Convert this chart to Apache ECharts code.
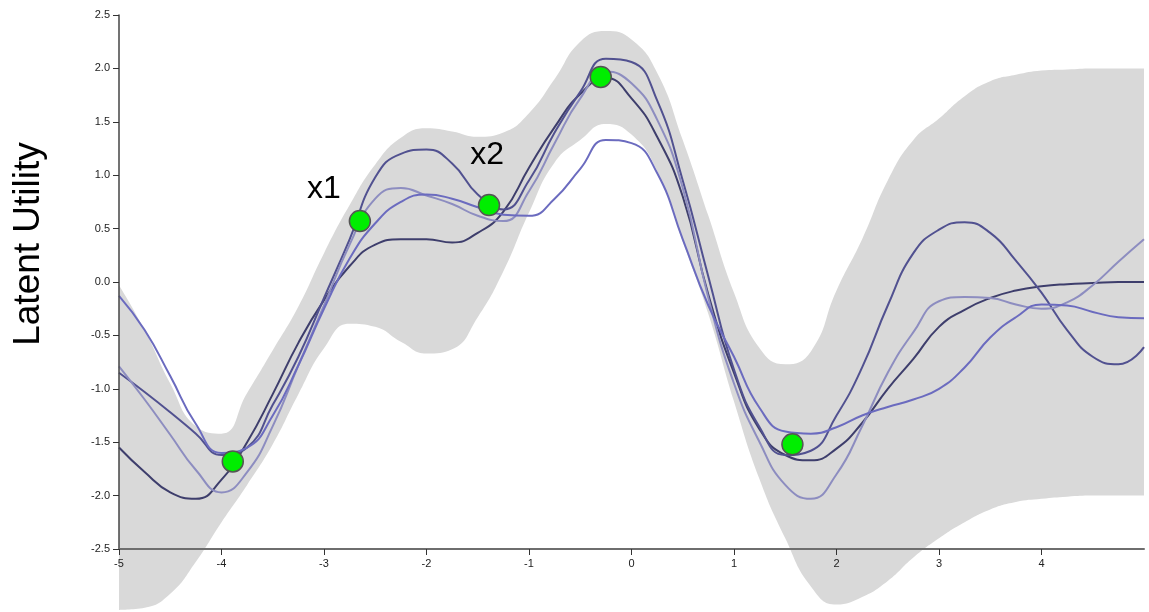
<!DOCTYPE html>
<html>
<head>
<meta charset="utf-8">
<script src="https://cdn.jsdelivr.net/npm/echarts@6/dist/echarts.min.js"></script>
<style>
  html, body { margin: 0; padding: 0; background: #fff; }
  #chart { width: 1149px; height: 612px; }
</style>
</head>
<body>
<div id="chart"></div>
<script>
const xs = [-5, -4.75, -4.5, -4.25, -4, -3.75, -3.5, -3.25, -3, -2.75, -2.5, -2.25, -2, -1.75, -1.5, -1.25,
  -1, -0.75, -0.5, -0.25, 0, 0.25, 0.5, 0.75, 1, 1.25, 1.5, 1.75, 2, 2.25, 2.5, 2.75, 3, 3.25, 3.5, 3.75,
  4, 4.25, 4.5, 4.75, 5];

// confidence band
const bandUpper = [-0.03, -0.45, -0.95, -1.35, -1.42, -1.04, -0.64, -0.23, 0.27, 0.72, 1.10, 1.35, 1.44, 1.41, 1.36, 1.40,
  1.58, 1.90, 2.25, 2.35, 2.27, 1.96, 1.33, 0.62, -0.10, -0.62, -0.77, -0.65, -0.08, 0.40, 0.95, 1.33, 1.53, 1.74, 1.88, 1.94,
  1.98, 1.99, 2.0, 2.0, 2.0];
const bandLower = [-3.07, -3.05, -2.92, -2.62, -2.25, -1.90, -1.52, -1.05, -0.62, -0.39, -0.42, -0.56, -0.67, -0.63, -0.33, 0.10,
  0.65, 1.12, 1.33, 1.48, 1.38, 1.04, 0.38, -0.30, -1.12, -1.85, -2.40, -2.85, -3.02, -2.95, -2.80, -2.58, -2.40, -2.25, -2.13, -2.06,
  -2.03, -2.01, -2.0, -2.0, -2.0];

// sampled functions
const sampleA = [-1.55, -1.78, -1.97, -2.03, -1.85, -1.50, -1.05, -0.57, -0.17, 0.15, 0.35, 0.40, 0.40, 0.37, 0.46, 0.66,
  1.07, 1.45, 1.76, 1.91, 1.72, 1.36, 0.80, -0.12, -0.85, -1.38, -1.62, -1.67, -1.56, -1.32, -1.00, -0.72, -0.42, -0.26, -0.15, -0.08,
  -0.04, -0.02, -0.01, 0, 0];
const sampleB = [-0.85, -1.03, -1.22, -1.42, -1.62, -1.55, -1.15, -0.70, -0.15, 0.40, 0.98, 1.20, 1.24, 1.11, 0.82, 0.68,
  0.95, 1.40, 1.78, 2.09, 2.06, 1.70, 0.95, 0.05, -0.82, -1.36, -1.62, -1.58, -1.25, -0.80, -0.22, 0.27, 0.49, 0.56, 0.46, 0.20,
  -0.10, -0.45, -0.70, -0.77, -0.61];
const sampleC = [-0.79, -1.10, -1.43, -1.76, -1.97, -1.78, -1.35, -0.78, -0.22, 0.35, 0.78, 0.88, 0.81, 0.73, 0.62, 0.57,
  0.85, 1.30, 1.72, 1.97, 1.86, 1.52, 0.88, -0.15, -0.95, -1.50, -1.90, -2.03, -1.80, -1.35, -0.85, -0.47, -0.18, -0.14, -0.15, -0.21,
  -0.25, -0.19, -0.03, 0.19, 0.40];
const sampleD = [-0.13, -0.45, -0.88, -1.33, -1.60, -1.55, -1.25, -0.78, -0.25, 0.22, 0.55, 0.75, 0.82, 0.78, 0.70, 0.63,
  0.62, 0.78, 1.06, 1.33, 1.30, 1.02, 0.40, -0.22, -0.70, -1.18, -1.40, -1.42, -1.36, -1.25, -1.17, -1.10, -1.00, -0.80, -0.52, -0.33,
  -0.21, -0.22, -0.28, -0.33, -0.34];

// observed comparisons
const pointsX = [-3.89, -2.65, -1.39, -0.30, 1.57];
const pointsY = [-1.68, 0.57, 0.72, 1.92, -1.52];
const pointNames = ['', 'x1', 'x2', '', ''];

const yTicks = ['-2.5', '-2.0', '-1.5', '-1.0', '-0.5', '0.0', '0.5', '1.0', '1.5', '2.0', '2.5'];

function pairs(ys) {
  return xs.map((x, i) => [x, ys[i]]);
}

const chart = echarts.init(document.getElementById('chart'));

const lineStyleOf = (color) => ({ color: color, width: 2 });

const option = {
  animation: false,
  grid: { left: 119, right: 5, top: 15, bottom: 63 },
  xAxis: [
    {
      type: 'value', min: -5, max: 5, interval: 1, z: 3,
      axisLine: { onZero: false, lineStyle: { color: '#6e6e6e', width: 2 } },
      axisTick: { length: 6, lineStyle: { color: '#333' } },
      axisLabel: { color: '#222', fontSize: 11, fontFamily: 'Liberation Sans', margin: 9, showMaxLabel: false },
      splitLine: { show: false }
    },
    {
      // hidden category axis so the band can be stacked lower -> upper
      type: 'category', data: xs.map(String), boundaryGap: false, show: false
    }
  ],
  yAxis: {
    type: 'value', min: -2.5, max: 2.5, interval: 0.5, z: 3,
    name: 'Latent Utility', nameLocation: 'middle', nameGap: 72, nameRotate: 90,
    nameTextStyle: { fontSize: 37, color: '#000', fontFamily: 'Liberation Sans', padding: [0, 0, 0, 76] },
    axisLine: { show: true, onZero: false, lineStyle: { color: '#444', width: 1.5 } },
    axisTick: { show: true, length: 6, lineStyle: { color: '#333' } },
    axisLabel: {
      color: '#222', fontSize: 11, fontFamily: 'Liberation Sans', margin: 9,
      formatter: (v) => yTicks[Math.round((v + 2.5) / 0.5)]
    },
    splitLine: { show: false }
  },
  series: [
    {
      type: 'line', name: 'lower', xAxisIndex: 1, data: bandLower, stack: 'band', stackStrategy: 'all',
      smooth: true, symbol: 'none', lineStyle: { opacity: 0 }, clip: false, z: 1, silent: true
    },
    {
      type: 'line', name: 'band', xAxisIndex: 1, data: bandUpper.map((u, i) => u - bandLower[i]),
      stack: 'band', stackStrategy: 'all',
      smooth: true, symbol: 'none', lineStyle: { opacity: 0 }, areaStyle: { color: '#d9d9d9', opacity: 1 },
      clip: false, z: 1, silent: true
    },
    { type: 'line', data: pairs(sampleA), smooth: true, symbol: 'none', lineStyle: lineStyleOf('#3e3e6c'), z: 2 },
    { type: 'line', data: pairs(sampleB), smooth: true, symbol: 'none', lineStyle: lineStyleOf('#515190'), z: 2 },
    { type: 'line', data: pairs(sampleC), smooth: true, symbol: 'none', lineStyle: lineStyleOf('#8d8dc0'), z: 2 },
    { type: 'line', data: pairs(sampleD), smooth: true, symbol: 'none', lineStyle: lineStyleOf('#6b6bbf'), z: 2 },
    {
      type: 'scatter', z: 5, symbolSize: 21,
      data: pointsX.map((x, i) => ({
        value: [x, pointsY[i]],
        label: {
          show: pointNames[i] !== '', formatter: pointNames[i],
          position: 'top', offset: i === 1 ? [-36, 0] : [-2, -18]
        }
      })),
      itemStyle: { color: '#00ee00', opacity: 1, borderColor: '#555', borderWidth: 1.5 },
      label: { color: '#000', fontSize: 32, fontFamily: 'Liberation Sans' }
    }
  ]
};

chart.setOption(option);
</script>
</body>
</html>
